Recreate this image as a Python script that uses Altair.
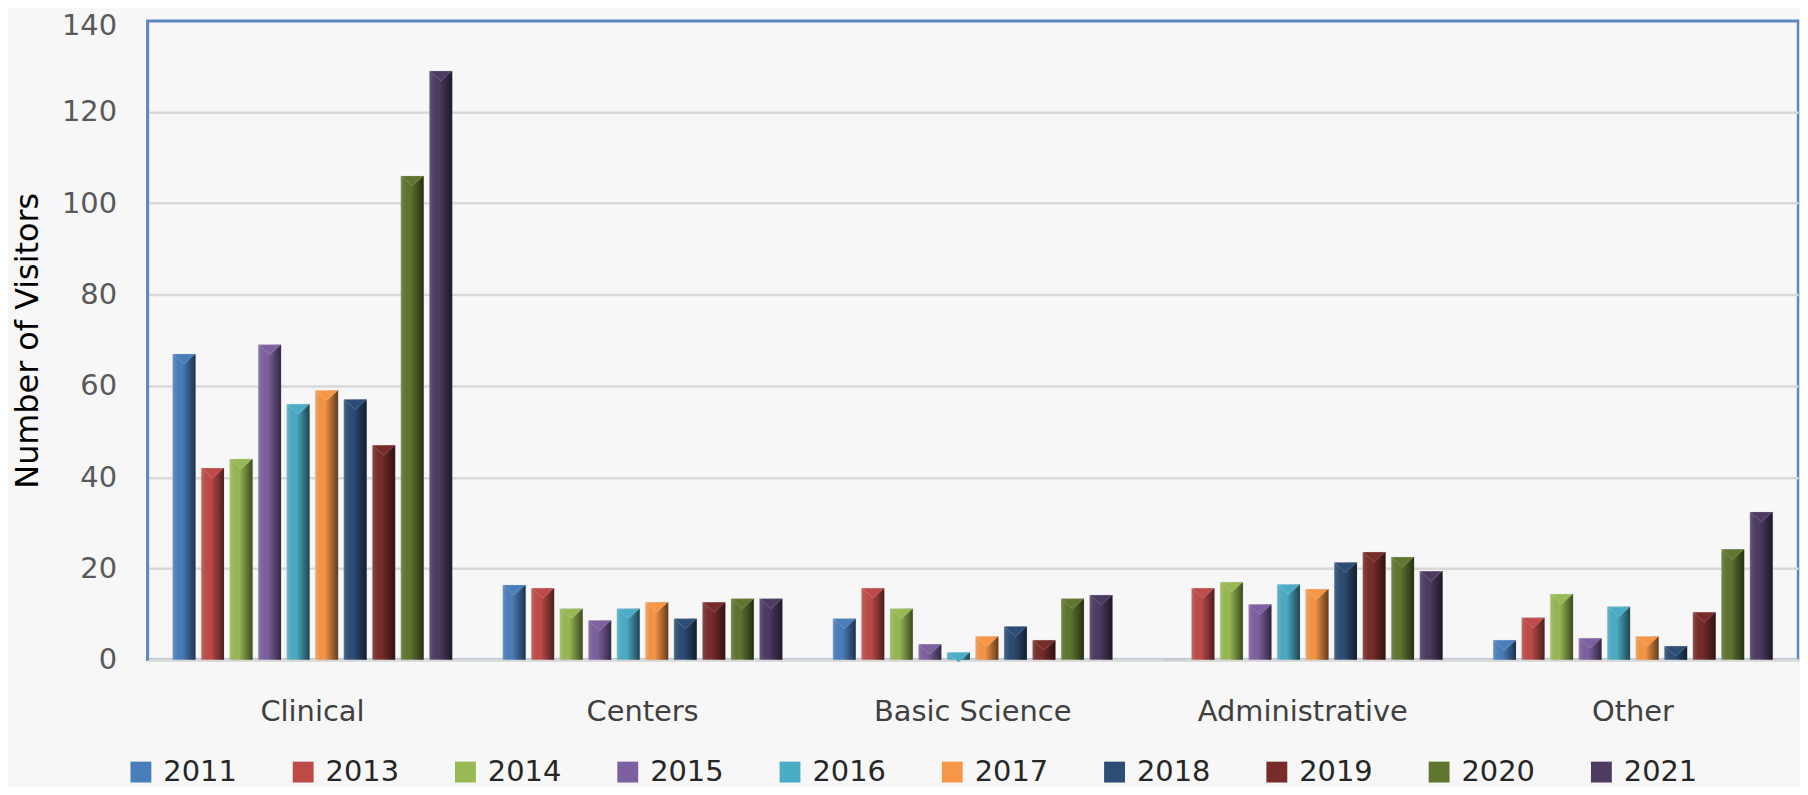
import altair as alt
import pandas as pd

categories = ["Clinical", "Centers", "Basic Science", "Administrative", "Other"]
years = ["2011", "2013", "2014", "2015", "2016", "2017", "2018", "2019", "2020", "2021"]

clinical = [67, 42, 44, 69, 56, 59, 57, 47, 106, 129]
centers = [16.4, 15.7, 11.2, 8.6, 11.2, 12.6, 9.0, 12.6, 13.4, 13.4]
basic_science = [9.0, 15.7, 11.2, 3.4, 1.6, 5.1, 7.3, 4.3, 13.4, 14.2]
administrative = [0, 15.7, 17.0, 12.1, 16.5, 15.5, 21.3, 23.6, 22.5, 19.4]
other = [4.3, 9.2, 14.4, 4.7, 11.6, 5.1, 3.0, 10.4, 24.2, 32.4]

colors = ["#4a7ebb", "#be4b48", "#98b954", "#7d60a0", "#4bacc6",
          "#f79646", "#2c4d75", "#772c2a", "#5f7530", "#4d3b62"]

rows = []
for cat, vals in zip(categories, [clinical, centers, basic_science, administrative, other]):
    for yr, v in zip(years, vals):
        rows.append({"Category": cat, "Year": yr, "Visitors": v})
df = pd.DataFrame(rows)

FONT = "DejaVu Sans"

x = alt.X(
    "Category:N", sort=categories,
    scale=alt.Scale(paddingInner=0.136, paddingOuter=0.068),
    axis=alt.Axis(title=None, labelAngle=0, labelFontSize=29, labelFont=FONT,
                  labelColor="#404040", labelPadding=38, labelLimit=0, ticks=False,
                  domainColor="#d9d9d9", domainWidth=3),
)
xo = alt.XOffset("Year:N", sort=years, scale=alt.Scale(paddingInner=0.2, paddingOuter=0.1))
y = alt.Y(
    "Visitors:Q",
    scale=alt.Scale(domain=[0, 140], nice=False),
    axis=alt.Axis(values=list(range(0, 141, 20)), title="Number of Visitors",
                  titleFont=FONT, titleFontSize=32, titleFontWeight="normal",
                  titleColor="#000000", titleAngle=270, titleBaseline="alphabetic",
                  titleAlign="center", titleX=-110, titleY=321,
                  labelFont=FONT, labelFontSize=29, labelColor="#595959",
                  labelPadding=31, ticks=False,
                  labelOffset=alt.condition("datum.value === 140", alt.value(5), alt.value(0)),
                  domain=True, domainColor="#5b87c4", domainWidth=2.5,
                  gridColor=alt.condition("datum.value === 140", alt.value("#5b87c4"), alt.value("#d9d9d9")),
                  gridWidth=2.5),
)

color = alt.Color(
    "Year:N", sort=years,
    scale=alt.Scale(domain=years, range=colors),
    legend=alt.Legend(title=None, orient="none", direction="horizontal", columns=10,
                      legendX=-21, legendY=740, symbolType="square", symbolSize=440,
                      symbolStrokeWidth=0, labelFont=FONT, labelFontSize=29,
                      labelColor="#262626", labelOffset=8, columnPadding=52),
)

base = alt.Chart(df).encode(x=x, xOffset=xo, y=y)

bars = base.mark_bar(stroke="#bfbfbf", strokeWidth=0.5, strokeOpacity=0.6).encode(color=color)

shade = base.mark_bar(
    color=alt.Gradient(
        gradient="linear",
        stops=[
            alt.GradientStop(color="rgba(255,255,255,0.15)", offset=0),
            alt.GradientStop(color="rgba(0,0,0,0)", offset=0.4),
            alt.GradientStop(color="rgba(0,0,0,0.6)", offset=1),
        ],
        x1=0, x2=1, y1=0, y2=0,
    )
)

tops = alt.Chart(df).transform_filter("datum.Visitors > 0").mark_point(
    shape="M-1,0 L1,0 L0,0.9 Z", filled=True, size=500, opacity=1,
    stroke="#ffffff", strokeWidth=0.4, strokeOpacity=0.5,
).encode(x=x, xOffset=xo, y=y, color=color)

chart = (
    alt.layer(bars, shade, tops)
    .properties(width=1658, height=642,
                autosize=alt.AutoSizeParams(type="none"),
                padding={"left": 140, "top": 11, "right": 2, "bottom": 126},
                background="#f7f7f7")
    .configure_view(stroke="#5b87c4", strokeWidth=2.5)
)

chart.save("out.html", embed_options={"renderer": "svg", "actions": False})
